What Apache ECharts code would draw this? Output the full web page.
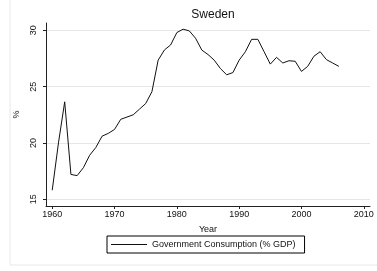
<!DOCTYPE html>
<html>
<head>
<meta charset="utf-8">
<script src="https://cdn.jsdelivr.net/npm/echarts@6/dist/echarts.min.js"></script>
<style>
  html, body { margin: 0; padding: 0; background: #fff; }
  #main { width: 377px; height: 271px; }
</style>
</head>
<body>
<div id="main"></div>
<script>
// data
var years = [1960, 1961, 1962, 1963, 1964, 1965, 1966, 1967, 1968, 1969,
             1970, 1971, 1972, 1973, 1974, 1975, 1976, 1977, 1978, 1979,
             1980, 1981, 1982, 1983, 1984, 1985, 1986, 1987, 1988, 1989,
             1990, 1991, 1992, 1993, 1994, 1995, 1996, 1997, 1998, 1999,
             2000, 2001, 2002, 2003, 2004, 2005, 2006];
var govCons = [15.8, 20.0, 23.65, 17.2, 17.1, 17.8, 18.9, 19.6, 20.6, 20.85,
               21.2, 22.1, 22.3, 22.5, 23.0, 23.5, 24.55, 27.35, 28.25, 28.7,
               29.8, 30.1, 29.95, 29.3, 28.25, 27.85, 27.35, 26.6, 26.05, 26.25,
               27.35, 28.1, 29.2, 29.2, 28.1, 27.0, 27.6, 27.1, 27.3, 27.25,
               26.35, 26.8, 27.7, 28.1, 27.4, 27.1, 26.8];
var xTicks = [1960, 1970, 1980, 1990, 2000, 2010];
var yTicks = [15, 20, 25, 30];

var points = [];
for (var i = 0; i < years.length; i++) {
    points.push([years[i], govCons[i]]);
}

var myChart = echarts.init(document.getElementById('main'));
var font = 'Liberation Sans';

var option = {
    animation: false,
    backgroundColor: '#fff',
    textStyle: { fontFamily: font },
    title: {
        text: 'Sweden',
        left: 208,
        textAlign: 'center',
        top: 4,
        textStyle: { fontFamily: font, fontSize: 12, fontWeight: 'normal', color: '#111' }
    },
    // light frame of the graph region
    graphic: [{
        type: 'rect',
        shape: { x: 10, y: -10, width: 380, height: 275 },
        style: { fill: 'none', stroke: '#e8e8e8', lineWidth: 1 },
        silent: true,
        z: -1
    }],
    grid: { left: 46, right: 7, top: 23, bottom: 65 },
    legend: {
        left: 107,
        top: 236,
        data: [{ name: 'Government Consumption (% GDP)', icon: 'rect' }],
        itemWidth: 36,
        itemHeight: 1,
        itemGap: 0,
        padding: [3, 9, 3, 4],
        borderColor: '#000',
        borderWidth: 1,
        itemStyle: { color: '#111', borderWidth: 0 },
        textStyle: { fontFamily: font, fontSize: 9, color: '#111', lineHeight: 11 }
    },
    xAxis: {
        type: 'value',
        min: 1959,
        max: 2011,
        name: 'Year',
        nameLocation: 'middle',
        nameGap: 19,
        nameTextStyle: { fontFamily: font, fontSize: 9, color: '#111' },
        axisLine: { lineStyle: { color: '#222', width: 1 } },
        axisTick: { customValues: xTicks, length: 3, lineStyle: { color: '#222' } },
        axisLabel: {
            customValues: xTicks, fontSize: 9, color: '#111', margin: 4,
            formatter: function (v) { return String(v); }
        },
        splitLine: { show: false }
    },
    yAxis: {
        type: 'value',
        min: 14.4,
        max: 30.65,
        name: '%',
        nameLocation: 'middle',
        nameRotate: 90,
        nameGap: 23,
        nameTextStyle: { fontFamily: font, fontSize: 9, color: '#111' },
        axisLine: { show: true, lineStyle: { color: '#222', width: 1 } },
        axisTick: { show: true, customValues: yTicks, length: 3, lineStyle: { color: '#222' } },
        axisLabel: {
            customValues: yTicks, rotate: 90, fontSize: 9, color: '#111', margin: 8,
            formatter: function (v) { return String(v); }
        },
        splitLine: { show: true, lineStyle: { color: '#e6e6e6', width: 1 } }
    },
    series: [{
        name: 'Government Consumption (% GDP)',
        type: 'line',
        data: points,
        showSymbol: false,
        symbol: 'none',
        lineStyle: { color: '#111', width: 1 },
        itemStyle: { color: '#111' }
    }]
};
myChart.setOption(option);
</script>
</body>
</html>
